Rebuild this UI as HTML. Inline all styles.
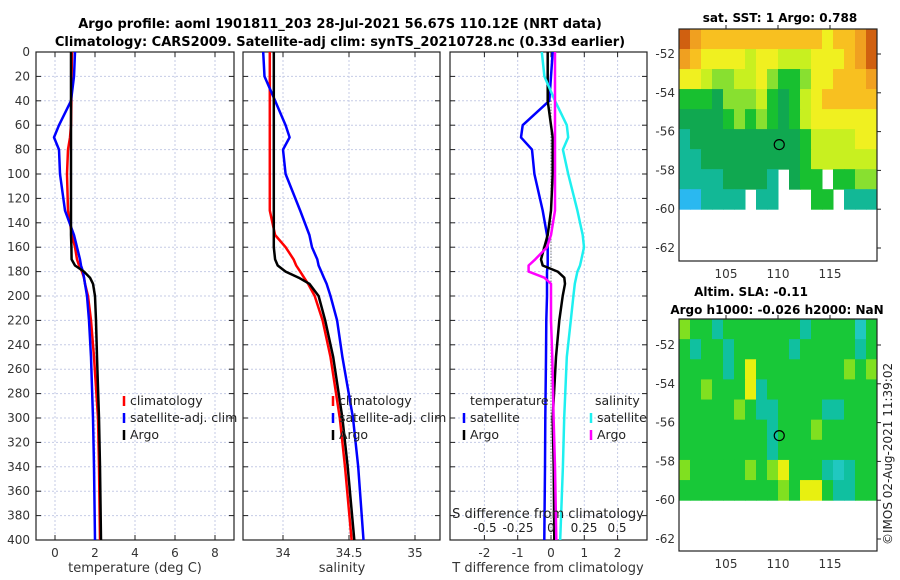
<!DOCTYPE html>
<html><head><meta charset="utf-8"><style>
body{margin:0;background:#fff}
svg{display:block;font-family:"DejaVu Sans","Liberation Sans",sans-serif}
</style></head><body>
<svg id="fig" width="900" height="580" viewBox="0 0 900 580">
<text x="340" y="28" text-anchor="middle" font-weight="bold" font-size="13">Argo profile: aoml 1901811_203 28-Jul-2021 56.67S 110.12E (NRT data)</text>
<text x="340" y="46" text-anchor="middle" font-weight="bold" font-size="13">Climatology: CARS2009. Satellite-adj clim: synTS_20210728.nc (0.33d earlier)</text>
<text x="780" y="22" text-anchor="middle" font-weight="bold" font-size="12">sat. SST: 1 Argo: 0.788</text>
<text x="751" y="296" text-anchor="middle" font-weight="bold" font-size="12">Altim. SLA: -0.11</text>
<text x="777" y="314" text-anchor="middle" font-weight="bold" font-size="12">Argo h1000: -0.026 h2000: NaN</text>
<text transform="translate(892,545) rotate(-90)" font-size="12" fill="#222">©IMOS 02-Aug-2021 11:39:02</text>
</svg>
<script>
// ---- data ----
const depths = [0,20,40,60,70,80,100,130,150,160,170,175,180,185,190,200,220,250,300,340,400];
const tempClim = [0.85,0.83,0.82,0.8,0.75,0.65,0.6,0.65,0.85,1.0,1.1,1.2,1.35,1.45,1.5,1.65,1.8,1.95,2.15,2.2,2.25];
const tempSat  = [1.0,0.95,0.8,0.2,-0.05,0.2,0.25,0.5,0.95,1.1,1.25,1.3,1.4,1.45,1.5,1.6,1.7,1.8,1.9,1.95,2.0];
const tempArgo = [0.8,0.8,0.8,0.8,0.8,0.8,0.8,0.8,0.8,0.82,0.83,1.0,1.45,1.75,1.9,2.0,2.05,2.1,2.2,2.25,2.3];
const salClim = [33.9,33.9,33.9,33.9,33.9,33.9,33.9,33.9,33.94,34.02,34.08,34.1,34.13,34.16,34.19,34.24,34.3,34.36,34.43,34.47,34.52];
const salSat  = [33.85,33.86,33.94,34.02,34.05,34.0,34.02,34.13,34.2,34.22,34.26,34.27,34.29,34.31,34.33,34.36,34.41,34.45,34.53,34.57,34.61];
const salArgo = [33.93,33.93,33.93,33.93,33.93,33.93,33.93,33.93,33.93,33.93,33.94,33.96,34.02,34.12,34.2,34.27,34.32,34.38,34.45,34.49,34.54];
const dTempSat  = [0.05,0.0,-0.05,-0.85,-0.9,-0.57,-0.5,-0.25,-0.12,-0.1,-0.1,-0.1,-0.12,-0.12,-0.12,-0.12,-0.14,-0.15,-0.17,-0.18,-0.2];
const dTempArgo = [-0.1,-0.1,-0.1,0.0,0.05,0.05,0.05,0.0,-0.1,-0.2,-0.3,-0.25,0.2,0.4,0.42,0.35,0.25,0.15,0.05,0.08,0.1];
const dSalSat   = [-0.07,-0.05,0.03,0.12,0.13,0.09,0.13,0.2,0.24,0.25,0.23,0.22,0.2,0.19,0.18,0.17,0.15,0.12,0.1,0.09,0.07];
const dSalArgo  = [0.03,0.03,0.03,0.03,0.03,0.03,0.03,0.03,0.0,-0.03,-0.12,-0.17,-0.17,-0.05,0.0,0.0,0.0,0.01,0.02,0.03,0.04];
const depthTicks = [0,20,40,60,80,100,120,140,160,180,200,220,240,260,280,300,320,340,360,380,400];
const tempTicks = [0,2,4,6,8];
const salTicks = [34,34.5,35];
const dTempTicks = [-2,-1,0,1,2];
const dSalTicks = [-0.5,-0.25,0,0.25,0.5];
const dSalLabels = ['-0.5','-0.25','0','0.25','0.5'];
const lonTicks = [105,110,115];
const latTicks = [-52,-54,-56,-58,-60,-62];
// SST colour index per cell (rows from top of map to -60S, cols across map), -1 = no data
const sstGrid = [
[9,8,7,7,7,7,7,7,7,7,7,7,7,6,7,7,8,9],
[8,7,6,6,6,6,5,6,6,5,5,5,6,6,6,7,8,9],
[6,6,5,4,4,5,5,6,4,3,3,4,6,6,7,7,7,8],
[3,3,3,2,4,4,4,5,3,2,3,5,6,7,7,7,7,7],
[2,2,2,2,3,4,3,4,3,2,3,5,6,6,6,6,6,6],
[1,2,2,2,2,2,2,2,2,2,2,3,5,5,5,5,6,6],
[1,1,2,2,2,2,2,2,2,2,2,3,5,5,5,5,5,5],
[1,1,1,1,2,2,2,2,1,-1,2,3,3,-1,3,3,4,4],
[0,0,1,1,1,1,-1,1,1,-1,-1,-1,3,3,-1,1,1,1]];
const slaGrid = [
[4,3,3,2,3,3,3,3,3,3,3,2,3,3,3,3,1,3],
[3,2,3,3,2,3,3,3,3,3,2,3,3,3,3,3,2,3],
[3,3,3,3,2,3,5,3,3,3,3,3,3,3,3,4,3,4],
[3,3,4,3,3,3,5,2,3,3,3,3,3,3,3,3,3,3],
[3,3,3,3,3,4,3,2,2,3,3,3,3,2,2,3,3,3],
[3,3,3,3,3,3,3,3,2,3,3,3,4,3,3,3,3,3],
[3,3,3,3,3,3,3,3,2,3,3,3,3,3,3,3,3,3],
[4,3,3,3,3,3,4,3,4,5,3,3,3,2,1,2,3,3],
[3,3,3,3,3,3,3,3,3,4,3,5,5,3,2,2,3,3]];
const argoLon = 110.12, argoLat = -56.67;

// ---- helpers ----
const NS='http://www.w3.org/2000/svg', svg=document.getElementById('fig');
function mk(tag,at,parent){const e=document.createElementNS(NS,tag);for(const k in at)e.setAttribute(k,at[k]);(parent||svg).appendChild(e);return e;}
function lin(d0,d1,r0,r1){return v=>r0+(v-d0)*(r1-r0)/(d1-d0);}
const Y0=52,Y1=540;
const yD=lin(0,400,Y0,Y1);

function panel(name,x0,x1,xs,ticks,labels,showY){
  const g=mk('g',{});
  
  
  ticks.forEach(t=>{mk('line',{x1:xs(t),x2:xs(t),y1:Y0,y2:Y1,stroke:'#c5cbe6','stroke-dasharray':'2,2','stroke-width':1},g);});
  depthTicks.forEach(d=>{mk('line',{x1:x0,x2:x1,y1:yD(d),y2:yD(d),stroke:'#c5cbe6','stroke-dasharray':'2,2','stroke-width':1},g);
    mk('line',{x1:x0,x2:x0+5,y1:yD(d),y2:yD(d),stroke:'#222'},g);mk('line',{x1:x1-5,x2:x1,y1:yD(d),y2:yD(d),stroke:'#222'},g);
    if(showY){const t=mk('text',{x:x0-6,y:yD(d)+4,'text-anchor':'end','font-size':12,fill:'#333'},g);t.textContent=d;
      }});
  ticks.forEach((t,i)=>{mk('line',{x1:xs(t),x2:xs(t),y1:Y1,y2:Y1-5,stroke:'#222'},g);mk('line',{x1:xs(t),x2:xs(t),y1:Y0,y2:Y0+5,stroke:'#222'},g);
    const l=mk('text',{x:xs(t),y:Y1+17,'text-anchor':'middle','font-size':12,fill:'#333'},g);l.textContent=labels[i];
    });
  mk('rect',{x:x0,y:Y0,width:x1-x0,height:Y1-Y0,fill:'none',stroke:'#222','stroke-width':1.2},g);
  return g;
}
function line(vals,xs,color,name,w){
  const p=mk('polyline',{points:vals.map((v,i)=>xs(v).toFixed(1)+','+yD(depths[i]).toFixed(1)).join(' '),fill:'none',stroke:color,'stroke-width':w||2.5,'stroke-linejoin':'round'});
  
  
}
function txt(x,y,s,name,opts){const t=mk('text',Object.assign({x:x,y:y,'font-size':12.5,fill:'#222'},opts||{}));t.textContent=s;
  return t;}
function legend(x,y,color,s,name){mk('line',{x1:x,x2:x,y1:y-9,y2:y+1,stroke:color,'stroke-width':2.5});txt(x+6,y,s,name);}

// panel 1 temperature
const xT=lin(0,8,55,215);
panel('temperature-panel',36,234,xT,tempTicks,tempTicks.map(String),true);
line(tempClim,xT,'#f00','temp-climatology-line');
line(tempSat,xT,'#00f','temp-satellite-line');
line(tempArgo,xT,'#000','temp-argo-line');
txt(135,572,'temperature (deg C)','temperature-axis-title',{'text-anchor':'middle','font-size':13,fill:'#333'});
legend(124,405,'#f00','climatology','legend-climatology');
legend(124,422,'#00f','satellite-adj. clim','legend-satellite');
legend(124,439,'#000','Argo','legend-argo');

// panel 2 salinity
const xS=lin(34,35,283,415);
panel('salinity-panel',243,440,xS,salTicks,['34','34.5','35'],false);
line(salClim,xS,'#f00','sal-climatology-line');
line(salSat,xS,'#00f','sal-satellite-line');
line(salArgo,xS,'#000','sal-argo-line');
txt(342,572,'salinity','salinity-axis-title',{'text-anchor':'middle','font-size':13,fill:'#333'});
legend(333,405,'#f00','climatology','legend2-climatology');
legend(333,422,'#00f','satellite-adj. clim','legend2-satellite');
legend(333,439,'#000','Argo','legend2-argo');

// panel 3 differences
const xDT=lin(0,1,551,584.3), xDS=lin(0,0.5,551,617);
panel('difference-panel',450,647,xDT,dTempTicks,dTempTicks.map(String),false);
mk('line',{x1:xDT(0),x2:xDT(0),y1:yD(40),y2:Y1,stroke:'#555','stroke-dasharray':'1,2','stroke-width':1});
line(dTempSat,xDT,'#00f','dtemp-satellite-line');
line(dTempArgo,xDT,'#000','dtemp-argo-line');
line(dSalSat,xDS,'#1ef0f0','dsal-satellite-line');
line(dSalArgo,xDS,'#f0f','dsal-argo-line');
txt(548,572,'T difference from climatology','tdiff-axis-title',{'text-anchor':'middle','font-size':13,fill:'#333'});
txt(548,518,'S difference from climatology','sdiff-axis-title',{'text-anchor':'middle','font-size':13,fill:'#222'});
dSalTicks.forEach((t,i)=>txt(xDS(t),532,dSalLabels[i],'sdiff-tick-label',{'text-anchor':'middle','font-size':12}));
txt(470,405,'temperature','legend3-temperature-header');
legend(464,422,'#00f','satellite','legend3-temp-satellite');
legend(464,439,'#000','Argo','legend3-temp-argo');
txt(595,405,'salinity','legend3-salinity-header');
legend(591,422,'#1ef0f0','satellite','legend3-sal-satellite');
legend(591,439,'#f0f','Argo','legend3-sal-argo');

// maps
const sstCols=['#2ab8f0','#12b896','#10a850','#18c030','#88e030','#c8f020','#f0f020','#f8c020','#f0a020','#d06010'];
const slaCols=['#30a0e0','#20c8c0','#10c0a0','#18c838','#80e020','#e8f010'];
function map(name,top,bottom,latTopY,grid,cols){
  const x0=679,x1=877,xL=lin(105,115,726,830);
  const yL=lin(-52,-62,latTopY,latTopY+194);
  const g=mk('g',{});
  
  
  const yEnd=yL(-60), nr=grid.length, nc=grid[0].length;
  const ch=(yEnd-top)/nr, cw=(x1-x0)/nc;
  grid.forEach((row,r)=>row.forEach((v,c)=>{
    if(v<0)return;
    mk('rect',{x:x0+c*cw,y:top+r*ch,width:cw+0.5,height:ch+0.5,fill:cols[v]},g);
  }));
  latTicks.forEach(l=>{mk('line',{x1:x1,x2:x1+4,y1:yL(l),y2:yL(l),stroke:'#222'},g);
    const t=mk('text',{x:x0-4,y:yL(l)+4,'text-anchor':'end','font-size':12,fill:'#333'},g);t.textContent=l;
    });
  lonTicks.forEach(l=>{mk('line',{x1:xL(l),x2:xL(l),y1:top,y2:top-4,stroke:'#222'},g);
    const t=mk('text',{x:xL(l),y:bottom+17,'text-anchor':'middle','font-size':12,fill:'#333'},g);t.textContent=l;
    });
  const c=mk('circle',{cx:xL(argoLon),cy:yL(argoLat),r:5,fill:'none',stroke:'#000','stroke-width':1.2},g);
  
  mk('rect',{x:x0,y:top,width:x1-x0,height:bottom-top,fill:'none',stroke:'#222','stroke-width':1.2},g);
}
map('sst-map',29,261,54,sstGrid,sstCols);
map('sla-map',319,551,345,slaGrid,slaCols);
</script>
</body></html>
